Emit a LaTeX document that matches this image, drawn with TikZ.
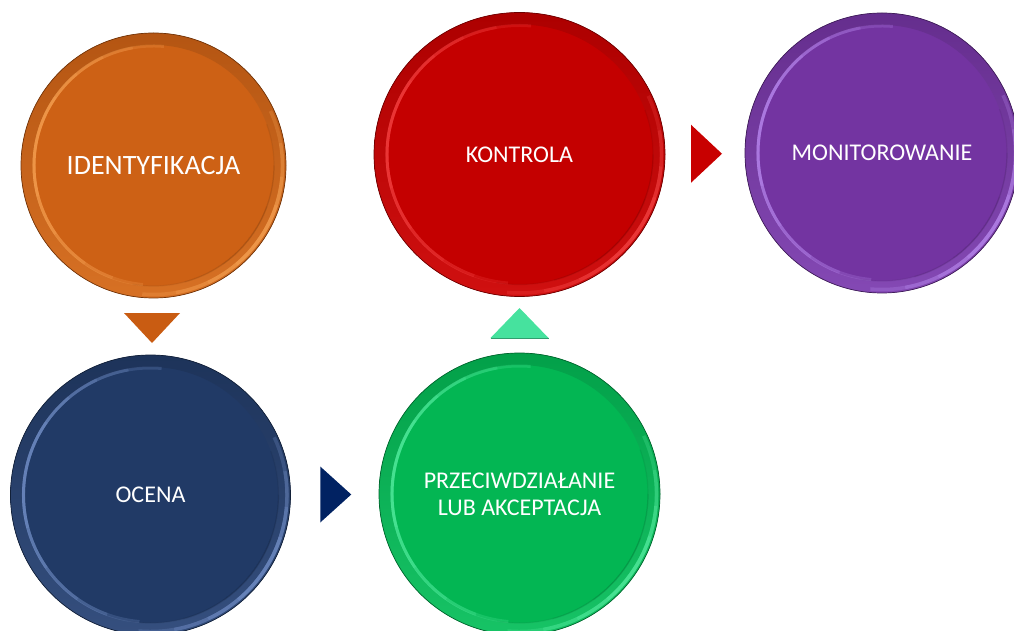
\documentclass[tikz,border=0pt]{standalone}
\usepackage{fontspec}
\setmainfont{Carlito}
\usetikzlibrary{calc,shapes.geometric}

\definecolor{cOrange}{HTML}{CD6115}
\definecolor{cOrangeL}{HTML}{FFB060}
\definecolor{cRed}{HTML}{C40000}
\definecolor{cRedL}{HTML}{FF5050}
\definecolor{cPurple}{HTML}{7334A1}
\definecolor{cPurpleL}{HTML}{C79AFF}
\definecolor{cNavy}{HTML}{213A66}
\definecolor{cNavyL}{HTML}{86A4E0}
\definecolor{cGreen}{HTML}{03B653}
\definecolor{cGreenL}{HTML}{66F8B0}
\definecolor{aOrange}{HTML}{C95C12}
\definecolor{aMint}{HTML}{46E29E}
\definecolor{aNavy}{HTML}{012262}
\definecolor{aRed}{HTML}{C80000}

% bevelled rim on a disc node: #1 name, #2 x radius, #3 y radius, #4 base, #5 light
\newcommand\discbevel[5]{%
  \begin{scope}[shift={(#1.center)}]
    % rim ring: slightly darker to the upper left, lighter to the lower right
    \shade[even odd rule, shading angle=-45,
           top color=#4!88!black, middle color=#4, bottom color=#4!80!#5]
      (0,0) ellipse [x radius=#2, y radius=#3]
      (0,0) ellipse [x radius={#2-12}, y radius={#3-12}];
    % soft shadow along the inner edge, lower right
    \foreach \a/\b in {-100/20,-75/0,-55/-20} {
      \draw[#4!60!black, line width=1.2pt, opacity=0.15]
        ({\a}:{#2-12} and {#3-12}) arc[start angle=\a, end angle=\b, x radius={#2-12}, y radius={#3-12}];
    }
    % highlight along the inner edge, upper left
    \foreach \a/\b in {85/265,100/250,115/235,130/215,145/195} {
      \draw[#5, line width=3pt, opacity=0.2]
        ({\a}:{#2-13} and {#3-13}) arc[start angle=\a, end angle=\b, x radius={#2-13}, y radius={#3-13}];
    }
    % highlight along the outer edge, lower right
    \foreach \a/\b in {-95/25,-80/10,-65/-5,-50/-18} {
      \draw[#5, line width=3.5pt, opacity=0.22]
        ({\a}:{#2-3.5} and {#3-3.5}) arc[start angle=\a, end angle=\b, x radius={#2-3.5}, y radius={#3-3.5}];
    }
    % thin dark outline
    \draw[#4!55!black, line width=0.7pt] (0,0) ellipse [x radius=#2, y radius=#3];
  \end{scope}}

\tikzset{
  disc/.style={ellipse, fill=#1, inner sep=0pt, outer sep=0pt, text=white,
    align=center, font=\fontsize{24}{27}\selectfont},
  arrowtri/.style={fill=#1},
}

\begin{document}
\begin{tikzpicture}[x=1pt, y=1pt]
  \useasboundingbox (0,0) rectangle (1014,630);
  \clip (0,0) rectangle (1014,630);

  % process stages
  \node[disc=cOrange, minimum width=265, minimum height=265,
        font=\fontsize{28}{32}\selectfont] (ident) at (153.5,464.5) {IDENTYFIKACJA};
  \node[disc=cRed, minimum width=291, minimum height=284] (kontr) at (519.5,475.5) {KONTROLA};
  \node[disc=cPurple, minimum width=274, minimum height=280] (monit) at (882,477) {MONITOROWANIE};
  \node[disc=cNavy, minimum width=280, minimum height=280] (ocena) at (150.5,135) {OCENA};
  \node[disc=cGreen, minimum width=281, minimum height=282] (przec) at (519.5,136)
        {PRZECIWDZIAŁANIE\\LUB AKCEPTACJA};

  \discbevel{ident}{132.5}{132.5}{cOrange}{cOrangeL}
  \discbevel{kontr}{145.5}{142}{cRed}{cRedL}
  \discbevel{monit}{137}{140}{cPurple}{cPurpleL}
  \discbevel{ocena}{140}{140}{cNavy}{cNavyL}
  \discbevel{przec}{140.5}{141}{cGreen}{cGreenL}

  % arrow heads between stages
  \coordinate (t1) at ($(ident.south)!0.5!(ocena.north)+(0,-1.5)$);
  \coordinate (t2) at ($(ocena.east)!0.5!(przec.west)+(1,0)$);
  \coordinate (t3) at ($(przec.north)!0.5!(kontr.south)+(0,1.75)$);
  \coordinate (t4) at ($(kontr.east)!0.5!(monit.west)+(1.5,0)$);

  \fill[arrowtri=aOrange] ($(t1)+(-28,15)$) -- ($(t1)+(28,15)$) -- ($(t1)+(0,-15)$) -- cycle;
  \fill[arrowtri=aNavy] ($(t2)+(-15.5,28)$) -- ($(t2)+(15.5,0)$) -- ($(t2)+(-15.5,-28)$) -- cycle;
  \fill[arrowtri=aMint] ($(t3)+(-29,-15)$) -- ($(t3)+(0,15)$) -- ($(t3)+(29,-15)$) -- cycle;
  \draw[aMint!70!black, line width=0.6pt] ($(t3)+(-29,-15)$) -- ($(t3)+(29,-15)$);
  \fill[arrowtri=aRed] ($(t4)+(-15.5,29)$) -- ($(t4)+(15.5,0)$) -- ($(t4)+(-15.5,-29)$) -- cycle;
\end{tikzpicture}
\end{document}
